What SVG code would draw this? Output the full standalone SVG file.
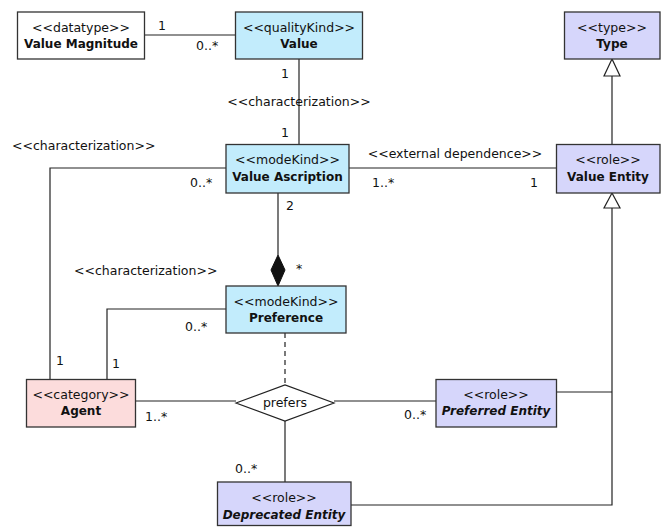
<svg xmlns="http://www.w3.org/2000/svg" width="661" height="527" viewBox="0 0 661 527">
<style>
.box{stroke:#333;stroke-width:1.3}
.blue{fill:#C2ECFC}
.purple{fill:#D6D6FB}
.pink{fill:#FCDCDC}
.white{fill:#fff}
text{font-family:"DejaVu Sans","Liberation Sans",sans-serif;font-size:12.5px;fill:#111}
.st{text-anchor:middle}
.nm{text-anchor:middle;font-weight:bold;font-size:12px}
.it{font-style:italic}
.ln{fill:none;stroke:#222;stroke-width:1.2}
.dash{stroke-dasharray:5,4}
</style>
<rect width="661" height="527" fill="#fff"/>
<g id="connectors">
<line class="ln" x1="144" y1="35" x2="235" y2="35"/>
<line class="ln" x1="299" y1="59" x2="299" y2="144"/>
<polyline class="ln" points="226,168 50,168 50,379"/>
<line class="ln" x1="349" y1="168" x2="556" y2="168"/>
<line class="ln" x1="612" y1="76" x2="612" y2="144"/>
<polygon points="612,59 604,76 620,76" fill="#fff" stroke="#222" stroke-width="1.2"/>
<polyline class="ln" points="557,392 612,392"/>
<polyline class="ln" points="351,505 612,505 612,208"/>
<polygon points="612,193 604,208 620,208" fill="#fff" stroke="#222" stroke-width="1.2"/>
<line class="ln" x1="278" y1="193" x2="278" y2="255"/>
<polygon points="278,255 285,270 278,286 271,270" fill="#111" stroke="#111" stroke-width="1"/>
<polyline class="ln" points="226,309 107,309 107,379"/>
<line class="ln dash" x1="285" y1="333" x2="285" y2="385"/>
<line class="ln" x1="136" y1="401" x2="236" y2="401"/>
<line class="ln" x1="334" y1="401" x2="436" y2="401"/>
<line class="ln" x1="285" y1="421" x2="285" y2="482"/>
<text x="158" y="30">1</text>
<text x="196" y="50">0..*</text>
<text x="281" y="78">1</text>
<text class="st" x="299" y="106">&lt;&lt;characterization&gt;&gt;</text>
<text x="281" y="137">1</text>
<text x="12" y="150">&lt;&lt;characterization&gt;&gt;</text>
<text x="190" y="187">0..*</text>
<text class="st" x="455" y="158">&lt;&lt;external dependence&gt;&gt;</text>
<text x="372" y="187">1..*</text>
<text x="530" y="187">1</text>
<text x="286" y="210">2</text>
<text x="296" y="273">*</text>
<text x="74" y="275">&lt;&lt;characterization&gt;&gt;</text>
<text x="185" y="331">0..*</text>
<text x="56" y="365">1</text>
<text x="112" y="368">1</text>
<text x="145" y="421">1..*</text>
<text x="404" y="419">0..*</text>
<text x="235" y="473">0..*</text>
</g>
<g id="value-magnitude">
<rect class="box white" x="17.5" y="12" width="127" height="47"/>
<text class="st" x="81" y="32">&lt;&lt;datatype&gt;&gt;</text>
<text class="nm" x="81" y="48">Value Magnitude</text>
</g>
<g id="value">
<rect class="box blue" x="235.5" y="12" width="127" height="47"/>
<text class="st" x="299" y="32">&lt;&lt;qualityKind&gt;&gt;</text>
<text class="nm" x="299" y="48">Value</text>
</g>
<g id="type">
<rect class="box purple" x="564.5" y="12" width="95.5" height="47"/>
<text class="st" x="612" y="32">&lt;&lt;type&gt;&gt;</text>
<text class="nm" x="612" y="48">Type</text>
</g>
<g id="value-ascription">
<rect class="box blue" x="226" y="144.5" width="123" height="48.5"/>
<text class="st" x="287.5" y="164">&lt;&lt;modeKind&gt;&gt;</text>
<text class="nm" x="287.5" y="181">Value Ascription</text>
</g>
<g id="value-entity">
<rect class="box purple" x="556.5" y="144.5" width="103.5" height="48.5"/>
<text class="st" x="608" y="164">&lt;&lt;role&gt;&gt;</text>
<text class="nm" x="608" y="181">Value Entity</text>
</g>
<g id="preference">
<rect class="box blue" x="226" y="286" width="120" height="47"/>
<text class="st" x="286" y="306">&lt;&lt;modeKind&gt;&gt;</text>
<text class="nm" x="286" y="322">Preference</text>
</g>
<g id="agent">
<rect class="box pink" x="26.5" y="379.5" width="109" height="47.5"/>
<text class="st" x="81" y="399">&lt;&lt;category&gt;&gt;</text>
<text class="nm" x="81" y="415">Agent</text>
</g>
<g id="prefers">
<polygon points="236,403 285,385 334,403 285,421" fill="#fff" stroke="#222" stroke-width="1.2"/>
<text class="st" x="285" y="407">prefers</text>
</g>
<g id="preferred-entity">
<rect class="box purple" x="436" y="379.5" width="120.5" height="47.5"/>
<text class="st" x="496" y="399">&lt;&lt;role&gt;&gt;</text>
<text class="nm it" x="496" y="415">Preferred Entity</text>
</g>
<g id="deprecated-entity">
<rect class="box purple" x="217.5" y="482" width="133.5" height="43.5"/>
<text class="st" x="284" y="502">&lt;&lt;role&gt;&gt;</text>
<text class="nm it" x="284" y="519">Deprecated Entity</text>
</g>
</svg>
